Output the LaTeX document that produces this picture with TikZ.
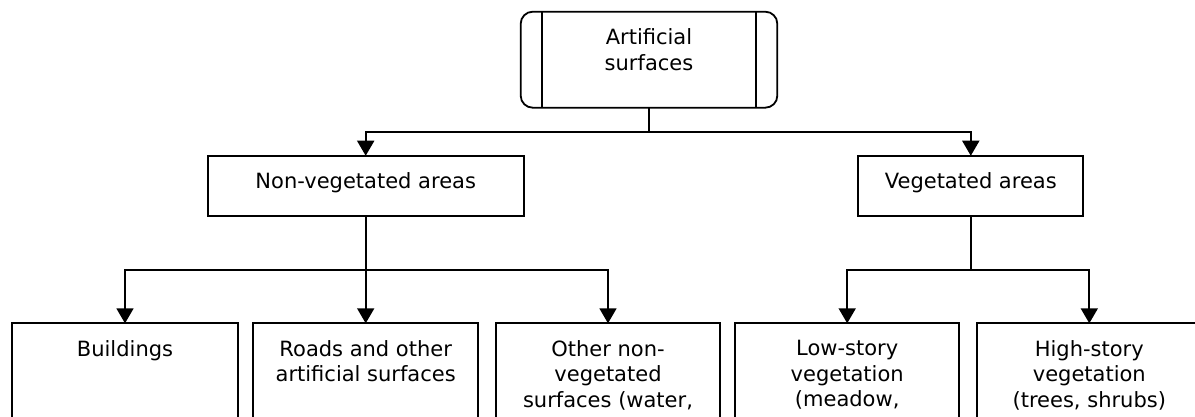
\documentclass[tikz,border=0pt]{standalone}
\usepackage{fontspec}
\setmainfont{DejaVu Sans}
\usetikzlibrary{arrows.meta}
\begin{document}
\begin{tikzpicture}[x=1pt,y=-1pt,line width=1.8pt,
  box/.style={draw,line width=1.8pt,inner sep=0pt,outer sep=0pt},
  lbl/.style={anchor=north,inner sep=0pt,align=center,font={\fontsize{21pt}{25.3pt}\selectfont}},
  arr/.style={-{Triangle[length=15pt,width=17pt]}}]
\useasboundingbox (0,0) rectangle (1195,417);
\clip (0,0) rectangle (1195,417);
% top box
\node[box,rounded corners=12pt,minimum width=256.6pt,minimum height=96pt] (top) at (649,59.7) {};
\draw ([xshift=21.6pt]top.north west) -- ([xshift=21.6pt]top.south west);
\draw ([xshift=-21.6pt]top.north east) -- ([xshift=-21.6pt]top.south east);
\node[lbl] (toptxt) at ([yshift=-16.3pt]top.north) {Artificial\\surfaces};
% second level
\node[box,minimum width=316pt,minimum height=60.3pt] (nv) at (365.7,185.9) {};
\node[lbl] (nvtxt) at ([yshift=-16.3pt]nv.north) {Non-vegetated areas};
\node[box,minimum width=225pt,minimum height=60.3pt] (v) at (970.8,185.9) {};
\node[lbl] (vtxt) at ([yshift=-16.3pt]v.north) {Vegetated areas};
% third level
\node[box,minimum width=226.6pt,minimum height=120pt] (b1) at (125,383.3) {};
\node[box,minimum width=225pt,minimum height=120pt] (b2) at (365.7,383.3) {};
\node[box,minimum width=224.6pt,minimum height=120pt] (b3) at (608,383.3) {};
\node[box,minimum width=224.3pt,minimum height=120pt] (b4) at (847.2,383.3) {};
\node[box,anchor=north west,minimum width=260pt,minimum height=120pt] (b5) at (977.3,323.3) {};
\coordinate (b5top) at (1089.3,323.3);
\node[lbl] (t1) at ([yshift=-16.3pt]b1.north) {Buildings};
\node[lbl] (t2) at ([yshift=-16.3pt]b2.north) {Roads and other\\artificial surfaces};
\node[lbl] (t3) at ([yshift=-16.3pt]b3.north) {Other non-\\vegetated\\surfaces (water,};
\node[lbl] (t4) at ([yshift=-16.3pt]b4.north) {Low-story\\vegetation\\(meadow,};
\node[lbl] (t5) at ([yshift=-16.3pt]b5top) {High-story\\vegetation\\(trees, shrubs)};
% connectors
\coordinate (j1) at (649,131.7);
\coordinate (j2) at (365.7,270);
\coordinate (j3) at (970.8,270);
\draw (top.south) -- (j1);
\draw[arr] (j1) -| (nv.north);
\draw[arr] (j1) -| (v.north);
\draw (nv.south) -- (j2);
\draw[arr] (j2) -| (b1.north);
\draw[arr] (j2) -- (b2.north);
\draw[arr] (j2) -| (b3.north);
\draw (v.south) -- (j3);
\draw[arr] (j3) -| (b4.north);
\draw[arr] (j3) -| (b5top);
\end{tikzpicture}
\end{document}
